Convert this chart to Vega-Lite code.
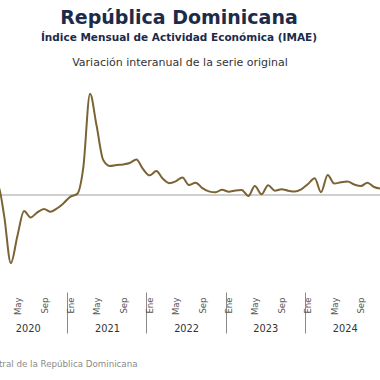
{
  "$schema": "https://vega.github.io/schema/vega-lite/v6.json",
  "width": 380,
  "height": 210,
  "autosize": {"type": "none"},
  "padding": {"left": 0, "top": 80, "right": 0, "bottom": 90},
  "background": "white",
  "config": {"view": {"stroke": null}},
  "title": {
    "text": "República Dominicana",
    "subtitle": "Índice Mensual de Actividad Económica (IMAE)",
    "anchor": "middle",
    "dx": -11,
    "offset": 13,
    "font": "DejaVu Sans",
    "fontSize": 19,
    "fontWeight": "bold",
    "color": "#1c2b4a",
    "subtitleFont": "DejaVu Sans",
    "subtitleFontSize": 10.5,
    "subtitleFontWeight": "bold",
    "subtitleColor": "#1c2b4a",
    "subtitlePadding": 5
  },
  "layer": [
    {
      "data": {"values": [
        {"start": "2020-01-01", "end": "2021-01-01"},
        {"start": "2021-01-01", "end": "2022-01-01"},
        {"start": "2022-01-01", "end": "2023-01-01"},
        {"start": "2023-01-01", "end": "2024-01-01"},
        {"start": "2024-01-01", "end": "2025-01-01"}
      ]},
      "mark": {"type": "rule", "color": "#a0a0a0", "strokeWidth": 1, "clip": true},
      "encoding": {
        "x": {
          "field": "start",
          "type": "temporal",
          "scale": {"type": "utc", "domain": [{"year": 2020, "month": 2, "date": 25, "utc": true}, {"year": 2024, "month": 12, "date": 12, "utc": true}]},
          "axis": {
            "orient": "bottom",
            "values": [
              {"year": 2020, "month": 7, "date": 2, "utc": true},
              {"year": 2021, "month": 7, "date": 2, "utc": true},
              {"year": 2022, "month": 7, "date": 2, "utc": true},
              {"year": 2023, "month": 7, "date": 2, "utc": true},
              {"year": 2024, "month": 7, "date": 2, "utc": true}
            ],
            "labelExpr": "utcFormat(datum.value, '%Y')",
            "labelAngle": 0,
            "labelAlign": "center",
            "labelBaseline": "top",
            "labelPadding": -10,
            "labelOffset": 39.6,
            "tickOffset": -39.6,
            "tickSize": 41,
            "tickColor": "#8a8a8a",
            "tickWidth": 1,
            "offset": 2,
            "domain": false,
            "grid": false,
            "labelFont": "DejaVu Sans",
            "labelFontSize": 9.8,
            "labelColor": "#333333",
            "labelFlush": false,
            "labelOverlap": false,
            "labelBound": false,
            "title": "Fuente: Banco Central de la República Dominicana",
            "titleAlign": "right",
            "titleX": 137,
            "titleY": 74,
            "titleBaseline": "alphabetic",
            "titleFont": "DejaVu Sans",
            "titleFontSize": 8.7,
            "titleFontWeight": "normal",
            "titleColor": "#8a8a8a"
          }
        },
        "x2": {"field": "end"},
        "y": {
          "datum": 0,
          "type": "quantitative",
          "scale": {"domain": [-41.57, 50.33], "nice": false, "zero": false},
          "axis": {
            "orient": "left",
            "domain": false,
            "ticks": false,
            "labels": false,
            "grid": false,
            "title": "Variación interanual de la serie original",
            "titleAngle": 0,
            "titleAlign": "center",
            "titleBaseline": "alphabetic",
            "titleX": 179.5,
            "titleY": -15,
            "titleFont": "DejaVu Sans",
            "titleFontSize": 11,
            "titleFontWeight": "normal",
            "titleColor": "#333333"
          }
        }
      }
    },
    {
      "data": {"values": [
        {"month": "2020-01-15", "value": 5.0},
        {"month": "2020-02-15", "value": 4.5},
        {"month": "2020-03-15", "value": -9.0},
        {"month": "2020-04-15", "value": -29.8},
        {"month": "2020-05-15", "value": -18.0},
        {"month": "2020-06-15", "value": -7.0},
        {"month": "2020-07-15", "value": -9.8},
        {"month": "2020-08-15", "value": -7.6},
        {"month": "2020-09-15", "value": -6.1},
        {"month": "2020-10-15", "value": -7.3},
        {"month": "2020-11-15", "value": -5.8},
        {"month": "2020-12-15", "value": -3.5},
        {"month": "2021-01-15", "value": -0.7},
        {"month": "2021-02-15", "value": 0.5},
        {"month": "2021-03-15", "value": 12.0},
        {"month": "2021-04-15", "value": 44.3},
        {"month": "2021-05-15", "value": 30.5},
        {"month": "2021-06-15", "value": 15.3},
        {"month": "2021-07-15", "value": 12.7},
        {"month": "2021-08-15", "value": 13.1},
        {"month": "2021-09-15", "value": 13.4},
        {"month": "2021-10-15", "value": 14.0},
        {"month": "2021-11-15", "value": 15.5},
        {"month": "2021-12-15", "value": 11.4},
        {"month": "2022-01-15", "value": 8.6},
        {"month": "2022-02-15", "value": 10.5},
        {"month": "2022-03-15", "value": 7.3},
        {"month": "2022-04-15", "value": 5.2},
        {"month": "2022-05-15", "value": 6.0},
        {"month": "2022-06-15", "value": 7.7},
        {"month": "2022-07-15", "value": 4.4},
        {"month": "2022-08-15", "value": 5.4},
        {"month": "2022-09-15", "value": 3.0},
        {"month": "2022-10-15", "value": 1.6},
        {"month": "2022-11-15", "value": 1.2},
        {"month": "2022-12-15", "value": 2.3},
        {"month": "2023-01-15", "value": 1.4},
        {"month": "2023-02-15", "value": 2.0},
        {"month": "2023-03-15", "value": 2.2},
        {"month": "2023-04-15", "value": -0.4},
        {"month": "2023-05-15", "value": 3.9},
        {"month": "2023-06-15", "value": 0.3},
        {"month": "2023-07-15", "value": 4.3},
        {"month": "2023-08-15", "value": 1.9},
        {"month": "2023-09-15", "value": 2.5},
        {"month": "2023-10-15", "value": 1.9},
        {"month": "2023-11-15", "value": 1.5},
        {"month": "2023-12-15", "value": 2.5},
        {"month": "2024-01-15", "value": 4.8},
        {"month": "2024-02-15", "value": 7.3},
        {"month": "2024-03-15", "value": 1.2},
        {"month": "2024-04-15", "value": 8.8},
        {"month": "2024-05-15", "value": 5.0},
        {"month": "2024-06-15", "value": 5.6},
        {"month": "2024-07-15", "value": 5.9},
        {"month": "2024-08-15", "value": 4.6},
        {"month": "2024-09-15", "value": 3.9},
        {"month": "2024-10-15", "value": 5.4},
        {"month": "2024-11-15", "value": 3.5},
        {"month": "2024-12-15", "value": 2.8}
      ]},
      "mark": {"type": "line", "color": "#7b6334", "strokeWidth": 2, "interpolate": "monotone", "clip": true},
      "encoding": {
        "x": {
          "field": "month",
          "type": "temporal",
          "scale": {"type": "utc", "domain": [{"year": 2020, "month": 2, "date": 25, "utc": true}, {"year": 2024, "month": 12, "date": 12, "utc": true}]},
          "axis": {
            "orient": "bottom",
            "values": [
              {"year": 2020, "month": 1, "date": 15, "utc": true},
              {"year": 2020, "month": 5, "date": 15, "utc": true},
              {"year": 2020, "month": 9, "date": 15, "utc": true},
              {"year": 2021, "month": 1, "date": 15, "utc": true},
              {"year": 2021, "month": 5, "date": 15, "utc": true},
              {"year": 2021, "month": 9, "date": 15, "utc": true},
              {"year": 2022, "month": 1, "date": 15, "utc": true},
              {"year": 2022, "month": 5, "date": 15, "utc": true},
              {"year": 2022, "month": 9, "date": 15, "utc": true},
              {"year": 2023, "month": 1, "date": 15, "utc": true},
              {"year": 2023, "month": 5, "date": 15, "utc": true},
              {"year": 2023, "month": 9, "date": 15, "utc": true},
              {"year": 2024, "month": 1, "date": 15, "utc": true},
              {"year": 2024, "month": 5, "date": 15, "utc": true},
              {"year": 2024, "month": 9, "date": 15, "utc": true}
            ],
            "labelExpr": "['Ene','Feb','Mar','Abr','May','Jun','Jul','Ago','Sep','Oct','Nov','Dic'][utcmonth(datum.value)]",
            "labelAngle": -90,
            "labelAlign": "right",
            "labelBaseline": "middle",
            "labelPadding": 7,
            "ticks": false,
            "tickSize": 0,
            "domain": false,
            "grid": false,
            "title": null,
            "labelFont": "DejaVu Sans",
            "labelFontSize": 8.5,
            "labelColor": "#555555",
            "labelFlush": false,
            "labelOverlap": false,
            "labelBound": false
          }
        },
        "y": {
          "field": "value",
          "type": "quantitative",
          "axis": {
            "orient": "left",
            "domain": false,
            "ticks": false,
            "labels": false,
            "grid": false,
            "title": "Variación interanual de la serie original",
            "titleAngle": 0,
            "titleAlign": "center",
            "titleBaseline": "alphabetic",
            "titleX": 179.5,
            "titleY": -15,
            "titleFont": "DejaVu Sans",
            "titleFontSize": 11,
            "titleFontWeight": "normal",
            "titleColor": "#333333"
          }
        }
      }
    }
  ],
  "resolve": {"axis": {"x": "independent"}}
}
